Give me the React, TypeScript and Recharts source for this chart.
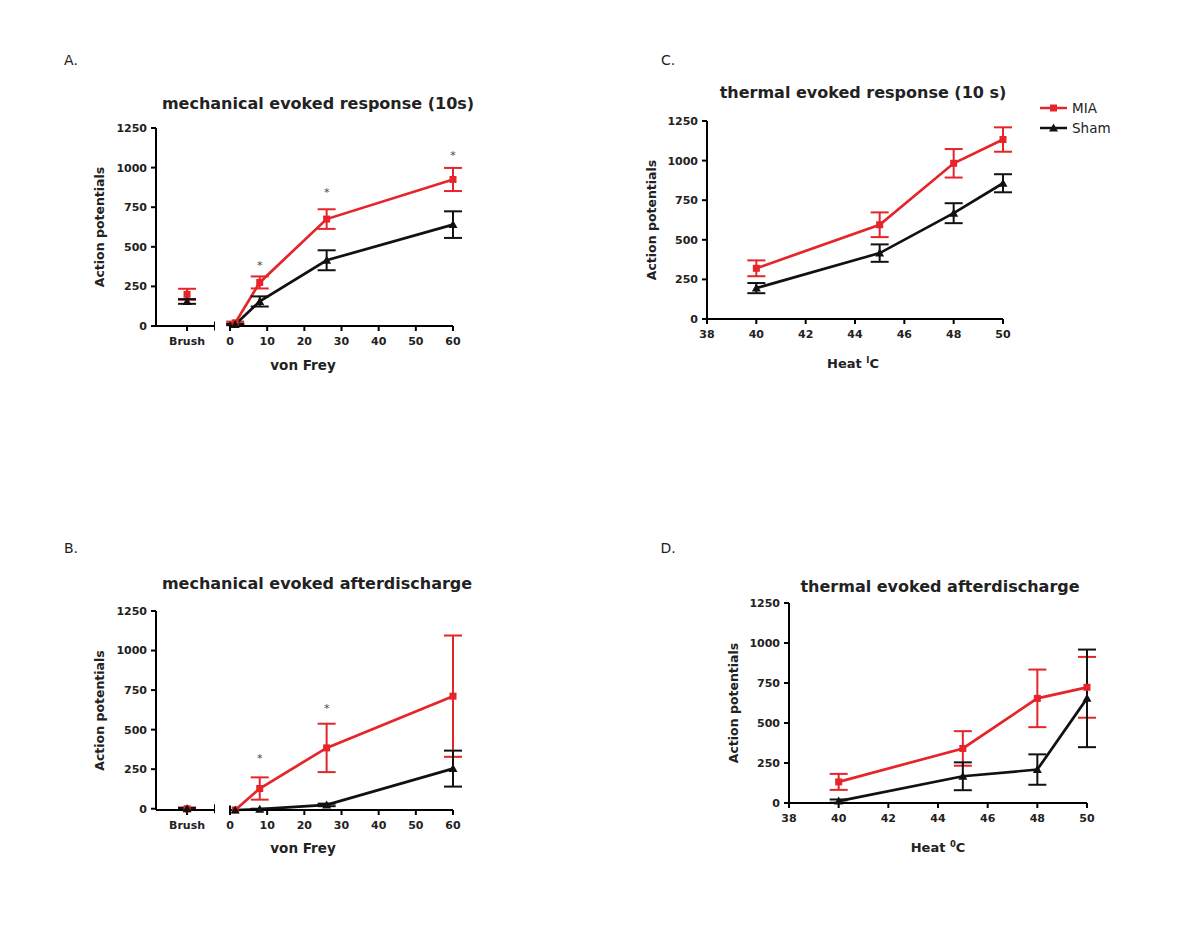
import React from "react";
import { LineChart, Line, XAxis, YAxis, ErrorBar, ReferenceLine, Legend } from "recharts";

const RED = "#e5252a";
const BLACK = "#111111";
const FONT = "'DejaVu Sans', sans-serif";

// x values
const vonFrey = [1.4, 8, 26, 60];
const heat = [40, 45, 48, 50];
const yTicks = [0, 250, 500, 750, 1000, 1250];
const vonFreyTicks = [0, 10, 20, 30, 40, 50, 60];
const heatTicks = [38, 40, 42, 44, 46, 48, 50];

// brush values, [A, B]
const brushMia = [200, 0];
const brushMiaErr = [35, 8];
const brushSham = [155, 0];
const brushShamErr = [15, 5];

// A. mechanical evoked response (10s)
const mechRespMia = [20, 275, 675, 925];
const mechRespMiaErr = [8, 38, 62, 73];
const mechRespSham = [10, 155, 415, 640];
const mechRespShamErr = [5, 32, 63, 84];
const mechRespStars = [null, 398, 856, 1095];

// B. mechanical evoked afterdischarge
const mechAdMia = [0, 135, 390, 715];
const mechAdMiaErr = [0, 70, 152, 381];
const mechAdSham = [0, 5, 32, 260];
const mechAdShamErr = [0, 3, 8, 113];
const mechAdStars = [null, 339, 655, null];

// C. thermal evoked response (10 s)
const thermRespMia = [320, 595, 983, 1133];
const thermRespMiaErr = [50, 78, 90, 77];
const thermRespSham = [195, 416, 668, 857];
const thermRespShamErr = [32, 55, 63, 57];

// D. thermal evoked afterdischarge
const thermAdMia = [132, 341, 654, 723];
const thermAdMiaErr = [50, 108, 180, 190];
const thermAdSham = [12, 167, 209, 654];
const thermAdShamErr = [10, 87, 95, 305];

const rows = (xs: any[], mia: number[], miaErr: number[], sham: number[], shamErr: number[], stars?: (number | null)[]) =>
  xs.map((x, i) => ({ x, mia: mia[i], miaErr: miaErr[i], sham: sham[i], shamErr: shamErr[i], star: stars ? stars[i] : null }));

const tickStyle = { fontSize: 11, fontWeight: 700, fill: "#222", fontFamily: FONT };
const axisLine = { stroke: "#000", strokeWidth: 2 };

const SquareDot = (p: any) =>
  p.cx == null || p.cy == null ? <g key={p.index} /> : (
    <rect key={p.index} x={p.cx - 3.5} y={p.cy - 3.5} width={7} height={7} fill={RED} />
  );

const TriangleDot = (p: any) =>
  p.cx == null || p.cy == null ? <g key={p.index} /> : (
    <path key={p.index} d={`M${p.cx},${p.cy - 4.5}L${p.cx + 4.5},${p.cy + 3.5}L${p.cx - 4.5},${p.cy + 3.5}Z`} fill={BLACK} />
  );

const StarDot = (p: any) =>
  p.cx == null || p.cy == null || p.value == null ? <g key={p.index} /> : (
    <text key={p.index} x={p.cx} y={p.cy + 6} textAnchor="middle" fontSize={11} fill="#444" fontFamily={FONT}>*</text>
  );

function series(withStars: boolean) {
  const out = [
    <Line key="mia" dataKey="mia" name="MIA" stroke={RED} strokeWidth={2.7} dot={SquareDot} activeDot={false} isAnimationActive={false}>
      <ErrorBar dataKey="miaErr" width={9} strokeWidth={2} stroke={RED} direction="y" />
    </Line>,
    <Line key="sham" dataKey="sham" name="Sham" stroke={BLACK} strokeWidth={2.7} dot={TriangleDot} activeDot={false} isAnimationActive={false}>
      <ErrorBar dataKey="shamErr" width={9} strokeWidth={2} stroke={BLACK} direction="y" />
    </Line>,
  ];
  if (withStars) {
    out.push(
      <Line key="star" dataKey="star" stroke="none" dot={StarDot} activeDot={false} legendType="none" isAnimationActive={false} />
    );
  }
  return out;
}

const yLabel = (offset: number) => ({
  value: "Action potentials",
  angle: -90,
  position: "insideLeft" as const,
  offset,
  style: { textAnchor: "middle", fontSize: 12.5, fontWeight: 700, fill: "#222", fontFamily: FONT },
});

function Text({ x, y, size, bold, children }: any) {
  return (
    <div
      style={{
        position: "absolute",
        left: x,
        top: y,
        transform: "translate(-50%, -50%)",
        whiteSpace: "nowrap",
        fontSize: size,
        fontWeight: bold ? 700 : 400,
        color: "#222",
        fontFamily: FONT,
      }}
    >
      {children}
    </div>
  );
}

function MechPanel({ top, bottom, brushIndex, data }: any) {
  const Y_W = 68;
  const left = 156 - Y_W;
  const h = 10 + (bottom - top) + 30;
  const brushData = [
    { x: 1, mia: brushMia[brushIndex], miaErr: brushMiaErr[brushIndex], sham: brushSham[brushIndex], shamErr: brushShamErr[brushIndex], star: null },
  ];
  return (
    <>
      <div style={{ position: "absolute", left, top: top - 10 }}>
        <LineChart width={Y_W + 59} height={h} data={brushData} margin={{ top: 10, right: 0, bottom: 0, left: 0 }}>
          <XAxis dataKey="x" type="number" domain={[0, 1.9]} ticks={[1]} interval={0} tickFormatter={() => "Brush"} height={30}
            axisLine={axisLine} tickLine={axisLine} tickSize={5} tickMargin={6} tick={tickStyle} />
          <YAxis domain={[0, 1250]} ticks={yTicks} width={Y_W} axisLine={axisLine} tickLine={axisLine} tickSize={5}
            tickMargin={4} tick={tickStyle} label={yLabel(12)} />
          <ReferenceLine segment={[{ x: 1.9, y: -28 }, { x: 1.9, y: 28 }]} ifOverflow="visible" stroke="#000" strokeWidth={2} />
          {series(false)}
        </LineChart>
      </div>
      <div style={{ position: "absolute", left: 230 - 12, top: top - 10 }}>
        <LineChart width={12 + 223 + 15} height={h} data={data} margin={{ top: 10, right: 15, bottom: 0, left: 12 }}>
          <XAxis dataKey="x" type="number" domain={[0, 60]} ticks={vonFreyTicks} interval={0} height={30}
            axisLine={axisLine} tickLine={axisLine} tickSize={5} tickMargin={6} tick={tickStyle} />
          <YAxis hide domain={[0, 1250]} ticks={yTicks} />
          <ReferenceLine segment={[{ x: 0, y: -28 }, { x: 0, y: 28 }]} ifOverflow="visible" stroke="#000" strokeWidth={2} />
          {series(true)}
        </LineChart>
      </div>
    </>
  );
}

const LegendContent = (props: any) => (
  <div style={{ fontFamily: FONT }}>
    {(props.payload || []).map((e: any) => (
      <div key={e.value} style={{ display: "flex", alignItems: "center", height: 20 }}>
        <svg width={30} height={12}>
          <line x1={0} y1={6} x2={27} y2={6} stroke={e.color} strokeWidth={2.5} />
          {e.value === "MIA" ? (
            <rect x={10} y={2.5} width={7} height={7} fill={e.color} />
          ) : (
            <path d="M13.5,1.5L18,9.5L9,9.5Z" fill={e.color} />
          )}
        </svg>
        <span style={{ fontSize: 13.5, color: "#222", marginLeft: 2 }}>{e.value}</span>
      </div>
    ))}
  </div>
);

function ThermPanel({ axisX, top, bottom, plotW, data, legend }: any) {
  const Y_W = 68;
  const right = legend ? 127 : 15;
  return (
    <div style={{ position: "absolute", left: axisX - Y_W, top: top - 10 }}>
      <LineChart width={Y_W + plotW + right} height={10 + (bottom - top) + 30} data={data}
        margin={{ top: 10, right, bottom: 0, left: 0 }}>
        <XAxis dataKey="x" type="number" domain={[38, 50]} ticks={heatTicks} interval={0} height={30}
          axisLine={axisLine} tickLine={axisLine} tickSize={5} tickMargin={6} tick={tickStyle} />
        <YAxis domain={[0, 1250]} ticks={yTicks} width={Y_W} axisLine={axisLine} tickLine={axisLine} tickSize={5}
          tickMargin={4} tick={tickStyle} label={yLabel(13)} />
        {legend && (
          <Legend layout="vertical" align="center" verticalAlign="middle" content={LegendContent}
            wrapperStyle={{ position: "absolute", left: 1040 - (axisX - Y_W), top: 98 - (top - 10), width: 90 }} />
        )}
        {series(false)}
      </LineChart>
    </div>
  );
}

export default function App() {
  const mechResp = rows(vonFrey, mechRespMia, mechRespMiaErr, mechRespSham, mechRespShamErr, mechRespStars);
  const mechAd = rows(vonFrey, mechAdMia, mechAdMiaErr, mechAdSham, mechAdShamErr, mechAdStars);
  const thermResp = rows(heat, thermRespMia, thermRespMiaErr, thermRespSham, thermRespShamErr);
  const thermAd = rows(heat, thermAdMia, thermAdMiaErr, thermAdSham, thermAdShamErr);

  return (
    <div style={{ position: "absolute", left: 0, top: 0, width: 1200, height: 938, background: "#fff", fontFamily: FONT }}>
      <Text x={71} y={60} size={14}>A.</Text>
      <Text x={318} y={103} size={16} bold>mechanical evoked response (10s)</Text>
      <MechPanel top={128} bottom={326} brushIndex={0} data={mechResp} />
      <Text x={303} y={365} size={13.5} bold>von Frey</Text>

      <Text x={71} y={548} size={14}>B.</Text>
      <Text x={317} y={583} size={16} bold>mechanical evoked afterdischarge</Text>
      <MechPanel top={611} bottom={810} brushIndex={1} data={mechAd} />
      <Text x={303} y={848} size={13.5} bold>von Frey</Text>

      <Text x={668} y={60} size={14}>C.</Text>
      <Text x={863} y={92} size={16} bold>thermal evoked response (10 s)</Text>
      <ThermPanel axisX={707} top={121} bottom={319} plotW={296} data={thermResp} legend />
      <Text x={853} y={363} size={13} bold>Heat <sup style={{ fontSize: "0.65em" }}>I</sup>C</Text>

      <Text x={668} y={548} size={14}>D.</Text>
      <Text x={940} y={586} size={16} bold>thermal evoked afterdischarge</Text>
      <ThermPanel axisX={789} top={603} bottom={803} plotW={298} data={thermAd} />
      <Text x={938} y={847} size={13} bold>Heat <sup style={{ fontSize: "0.65em" }}>0</sup>C</Text>
    </div>
  );
}
